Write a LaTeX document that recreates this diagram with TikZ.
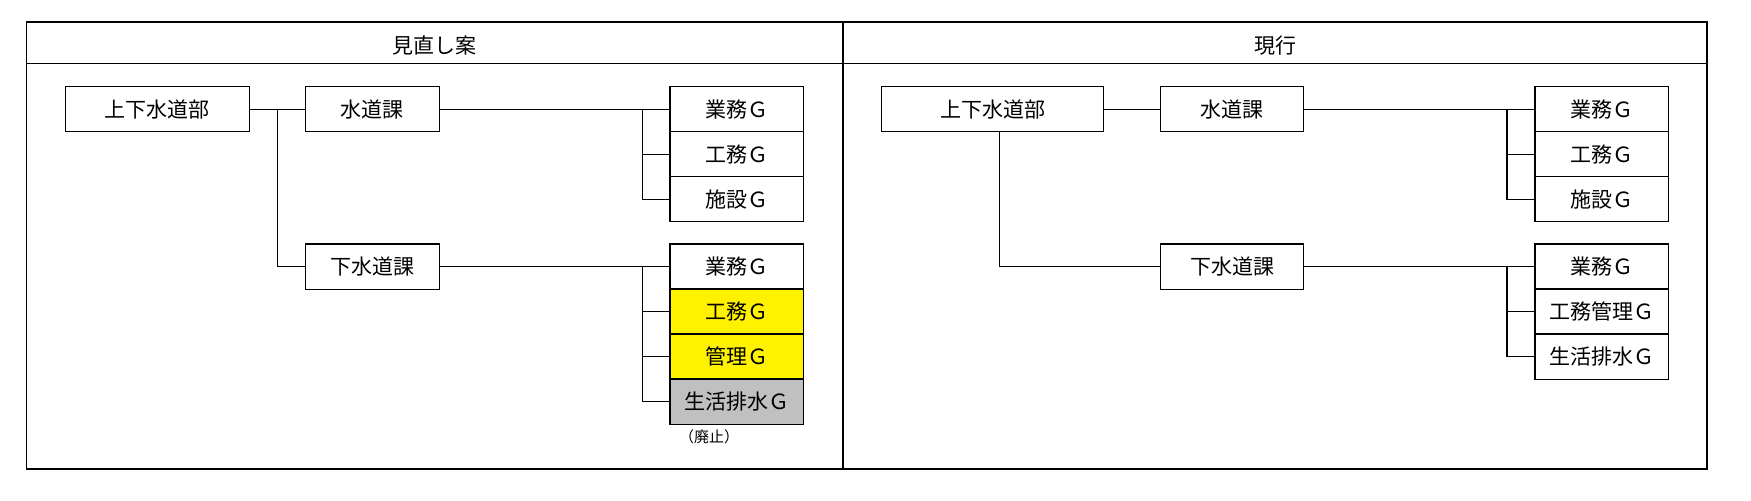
\documentclass[tikz,border=0pt]{standalone}
\usepackage{fontspec}
\setmainfont{Noto Sans CJK JP}
\definecolor{haishi}{RGB}{192,192,192}

\begin{document}
\begin{tikzpicture}[
    x=0.5pt,  % one unit is one pixel of the sheet
    y=-0.5pt, % y counts downwards, like the sheet
    line width=0.6pt,
    every node/.style={font=\fontsize{10.5}{12}\selectfont},
    unit/.style={draw, minimum height=22.6pt, inner sep=0pt},
    frame/.style={line width=0.8pt}
    ]

\useasboundingbox (0,0) rectangle (1751,501);

% --- Define data ---
\def\suidoG{業務Ｇ, 工務Ｇ, 施設Ｇ}
\def\gesuiNew{業務Ｇ/white, 工務Ｇ/yellow, 管理Ｇ/yellow, 生活排水Ｇ/haishi}
\def\gesuiNow{業務Ｇ, 工務管理Ｇ, 生活排水Ｇ}

% --- Frame and titles ---
\draw[frame] (26.4,22.3) rectangle (1707,469);
\draw[frame] (26.4,63.7) -- (1707,63.7);
\draw[frame] (843,22.3) -- (843,469);
\node (new-title) at (434.5,45.7) {見直し案};
\node (now-title) at (1275,45.7) {現行};

% --- Left panel: proposal ---
\node[unit, minimum width=91.8pt] (new-top) at (157.3,109.3) {上下水道部};
\node[unit, minimum width=66.8pt] (new-sui) at (372.3,109.3) {水道課};
\node[unit, minimum width=66.8pt] (new-ge) at (372.3,266.7) {下水道課};

\foreach \val [count=\i from 0] in \suidoG {
    \node[unit, minimum width=66.8pt] (new-sg-\i) at (736.8, 109.3 + 45*\i) {\val};
}
\foreach \val/\col [count=\i from 0] in \gesuiNew {
    \node[unit, minimum width=66.8pt, fill=\col] (new-gg-\i) at (736.8, 266.7 + 45*\i) {\val};
}
\node[font=\fontsize{7.5}{9}\selectfont] (new-note) at (709,436.7) {（廃止）};

% --- Right panel: current ---
\node[unit, minimum width=111pt] (now-top) at (992.8,109.3) {上下水道部};
\node[unit, minimum width=71.8pt] (now-sui) at (1232,109.3) {水道課};
\node[unit, minimum width=71.8pt] (now-ge) at (1232,266.7) {下水道課};

\foreach \val [count=\i from 0] in \suidoG {
    \node[unit, minimum width=66.8pt] (now-sg-\i) at (1601.7, 109.3 + 45*\i) {\val};
}
\foreach \val [count=\i from 0] in \gesuiNow {
    \node[unit, minimum width=66.8pt] (now-gg-\i) at (1601.7, 266.7 + 45*\i) {\val};
}

% --- Draw Connections ---
\coordinate (new-trunk) at (277.8,109.3);
\coordinate (new-sb) at (642.3,109.3);
\coordinate (new-gb) at (642.3,266.7);
\coordinate (now-trunk) at (999.8,132);
\coordinate (now-sb) at (1507,109.3);
\coordinate (now-gb) at (1507,266.7);

\draw (new-top) -- (new-sui);
\draw (new-trunk) |- (new-ge.west);
\draw (new-sui) -- (new-sg-0);
\draw (new-ge) -- (new-gg-0);
\foreach \i in {1,2} {
    \draw (new-sb) |- (new-sg-\i.west);
}
\foreach \i in {1,2,3} {
    \draw (new-gb) |- (new-gg-\i.west);
}

\draw (now-top) -- (now-sui);
\draw (now-trunk) |- (now-ge.west);
\draw (now-sui) -- (now-sg-0);
\draw (now-ge) -- (now-gg-0);
\foreach \i in {1,2} {
    \draw (now-sb) |- (now-sg-\i.west);
    \draw (now-gb) |- (now-gg-\i.west);
}

\end{tikzpicture}
\end{document}
